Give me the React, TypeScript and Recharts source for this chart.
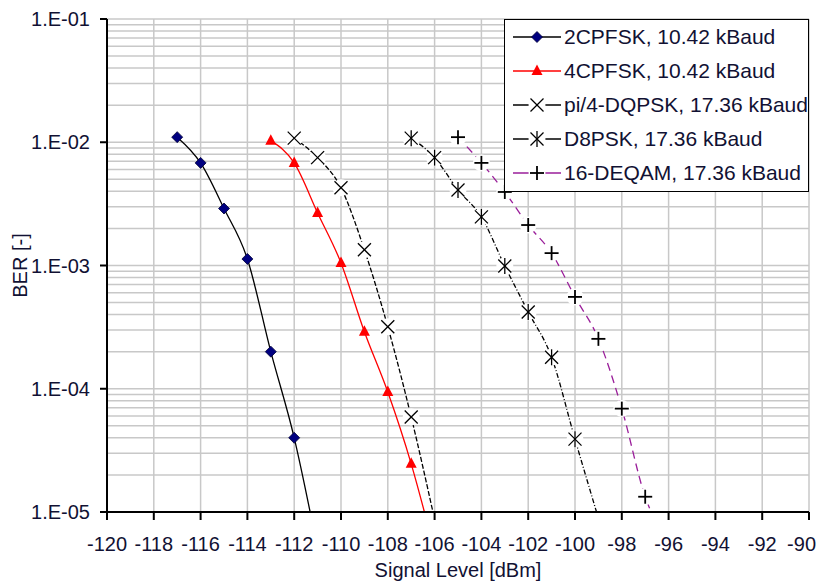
import React from 'react';
import { LineChart, Line, XAxis, YAxis, CartesianGrid, Legend, Text } from 'recharts';

const FONT = '"Liberation Sans", Arial, sans-serif';
const TEXT = '#111133';

// axes
const xTicks = [-120, -118, -116, -114, -112, -110, -108, -106, -104, -102, -100, -98, -96, -94, -92, -90];
const yTicks = [1e-5, 1e-4, 1e-3, 1e-2, 1e-1];
const yTickLabels = ['1.E-05', '1.E-04', '1.E-03', '1.E-02', '1.E-01'];
const gridMultipliers = [1, 2, 3, 4, 5, 6, 7, 8, 9];

// measured BER curves (last point of each is the line running off the bottom, no marker)
const levels2cpfsk = [-117, -116, -115, -114, -113, -112, -111];
const ber2cpfsk = [1.1e-2, 6.8e-3, 2.9e-3, 1.13e-3, 2.0e-4, 4.0e-5, 5e-6];

const levels4cpfsk = [-113, -112, -111, -110, -109, -108, -107, -106];
const ber4cpfsk = [1.03e-2, 6.8e-3, 2.67e-3, 1.05e-3, 2.9e-4, 9.4e-5, 2.46e-5, 4.8e-6];

const levelsDqpsk = [-112, -111, -110, -109, -108, -107, -106];
const berDqpsk = [1.08e-2, 7.5e-3, 4.27e-3, 1.34e-3, 3.18e-4, 5.9e-5, 8.7e-6];

const levelsD8psk = [-107, -106, -105, -104, -103, -102, -101, -100, -99];
const berD8psk = [1.08e-2, 7.5e-3, 4.1e-3, 2.48e-3, 9.9e-4, 4.2e-4, 1.8e-4, 3.9e-5, 8.9e-6];

const levelsDeqam = [-105, -104, -103, -102, -101, -100, -99, -98, -97, -96];
const berDeqam = [1.1e-2, 6.8e-3, 3.95e-3, 2.13e-3, 1.26e-3, 5.56e-4, 2.54e-4, 6.9e-5, 1.33e-5, 5.6e-6];

const gridValues = [
  ...yTicks.slice(0, -1).flatMap((d) => gridMultipliers.map((m) => m * d)),
  yTicks[yTicks.length - 1],
];

const zip = (xs: number[], ys: number[]) => xs.map((x, i) => ({ x, ber: ys[i] }));

type MarkerKind = 'diamond' | 'triangle' | 'cross' | 'star' | 'plus';

const series = [
  { name: '2CPFSK, 10.42 kBaud', data: zip(levels2cpfsk, ber2cpfsk), stroke: '#000000', dash: undefined, marker: 'diamond' as MarkerKind },
  { name: '4CPFSK, 10.42 kBaud', data: zip(levels4cpfsk, ber4cpfsk), stroke: '#ff0000', dash: undefined, marker: 'triangle' as MarkerKind },
  { name: 'pi/4-DQPSK, 17.36 kBaud', data: zip(levelsDqpsk, berDqpsk), stroke: '#000000', dash: '5 2', marker: 'cross' as MarkerKind },
  { name: 'D8PSK, 17.36 kBaud', data: zip(levelsD8psk, berD8psk), stroke: '#000000', dash: '5 2 1 2', marker: 'star' as MarkerKind },
  { name: '16-DEQAM, 17.36 kBaud', data: zip(levelsDeqam, berDeqam), stroke: '#9a1e9a', dash: '8 5', marker: 'plus' as MarkerKind },
];

const Marker = ({ kind, cx, cy }: { kind: MarkerKind; cx: number; cy: number }) => {
  if (kind === 'diamond') {
    return (
      <polygon
        points={`${cx},${cy - 5.5} ${cx + 5.5},${cy} ${cx},${cy + 5.5} ${cx - 5.5},${cy}`}
        fill="#000080"
        stroke="#000033"
        strokeWidth={0.8}
      />
    );
  }
  if (kind === 'triangle') {
    return <polygon points={`${cx},${cy - 6.5} ${cx + 5.5},${cy + 4} ${cx - 5.5},${cy + 4}`} fill="#ff0000" />;
  }
  const s = 6.5;
  return (
    <g stroke="#000" strokeWidth={kind === 'plus' ? 1.8 : 1.3} fill="none">
      <circle cx={cx} cy={cy} r={8.5} fill="#fff" stroke="none" />
      {(kind === 'cross' || kind === 'star') && (
        <>
          <line x1={cx - s} y1={cy - s} x2={cx + s} y2={cy + s} />
          <line x1={cx - s} y1={cy + s} x2={cx + s} y2={cy - s} />
        </>
      )}
      {kind === 'star' && <line x1={cx} y1={cy - 8} x2={cx} y2={cy + 8} />}
      {kind === 'plus' && (
        <>
          <line x1={cx - 7} y1={cy} x2={cx + 7} y2={cy} />
          <line x1={cx} y1={cy - 7} x2={cx} y2={cy + 7} />
        </>
      )}
    </g>
  );
};

const makeDot = (kind: MarkerKind) => (props: any) => {
  const { cx, cy, value, index } = props;
  if (value < yTicks[0] || cx == null || cy == null) return <g key={`d${index}`} />;
  return (
    <g key={`d${index}`}>
      <Marker kind={kind} cx={cx} cy={cy} />
    </g>
  );
};

// last label would run past the window edge, so it is right-aligned a little
const XTick = (props: any) => {
  const { x, y, payload } = props;
  const last = payload.value === xTicks[xTicks.length - 1];
  return (
    <Text
      x={last ? x + 7 : x}
      y={y}
      textAnchor={last ? 'end' : 'middle'}
      verticalAnchor="start"
      fill={TEXT}
      fontSize={20}
      fontFamily={FONT}
    >
      {String(payload.value)}
    </Text>
  );
};

const LegendBox = () => (
  <div
    style={{
      boxSizing: 'border-box',
      width: 305,
      height: 173,
      border: '1.5px solid #000',
      background: '#fff',
    }}
  >
    {series.map((s) => (
      <div key={s.name} style={{ display: 'flex', alignItems: 'center', height: 34 }}>
        <svg width={48} height={20} style={{ marginLeft: 8, flex: 'none' }}>
          <line x1={0} y1={10} x2={48} y2={10} stroke={s.stroke} strokeWidth={1.5} />
          <Marker kind={s.marker} cx={24} cy={10} />
        </svg>
        <span style={{ marginLeft: 3, fontFamily: FONT, fontSize: 21, color: TEXT, whiteSpace: 'nowrap' }}>
          {s.name}
        </span>
      </div>
    ))}
  </div>
);

export default function App() {
  const tickStyle = { fill: TEXT, fontSize: 20, fontFamily: FONT };
  return (
    <div style={{ width: 817, height: 574, background: '#fff' }}>
      <style>{'body { overflow: hidden; }'}</style>
      <LineChart width={817} height={574} margin={{ top: 11, right: 16, bottom: 0, left: 0 }}>
        <CartesianGrid stroke="#c8c8c8" strokeWidth={1.5} horizontalValues={gridValues} />
        <XAxis
          type="number"
          dataKey="x"
          domain={[-120, -90]}
          ticks={xTicks}
          interval={0}
          allowDataOverflow
          height={70}
          tick={<XTick />}
          tickSize={8}
          tickMargin={17}
          axisLine={{ stroke: '#000', strokeWidth: 2 }}
          tickLine={{ stroke: '#000', strokeWidth: 2 }}
          label={{ value: 'Signal Level [dBm]', position: 'insideBottom', offset: 5, fill: TEXT, fontSize: 20, fontFamily: FONT }}
        />
        <YAxis
          scale="log"
          domain={[1e-5, 1e-1]}
          ticks={yTicks}
          interval={0}
          allowDataOverflow
          width={99}
          tick={tickStyle}
          tickSize={7}
          tickMargin={10}
          tickFormatter={(v: number) => yTickLabels[yTicks.findIndex((t) => Math.abs(t - v) / t < 1e-6)] ?? ''}
          axisLine={{ stroke: '#000', strokeWidth: 2 }}
          tickLine={{ stroke: '#000', strokeWidth: 2 }}
          label={{
            value: 'BER [-]',
            angle: -90,
            position: 'insideLeft',
            offset: 12,
            fill: TEXT,
            fontSize: 20,
            fontFamily: FONT,
            style: { textAnchor: 'middle' },
          }}
        />
        {series.map((s) => (
          <Line
            key={s.name}
            data={s.data}
            dataKey="ber"
            name={s.name}
            type="monotone"
            stroke={s.stroke}
            strokeWidth={1.3}
            strokeDasharray={s.dash}
            dot={makeDot(s.marker)}
            activeDot={false}
            isAnimationActive={false}
          />
        ))}
        <Legend
          layout="vertical"
          align="center"
          verticalAlign="middle"
          content={() => <LegendBox />}
          wrapperStyle={{ left: 496, top: 11, width: 305, height: 173 }}
        />
      </LineChart>
    </div>
  );
}
